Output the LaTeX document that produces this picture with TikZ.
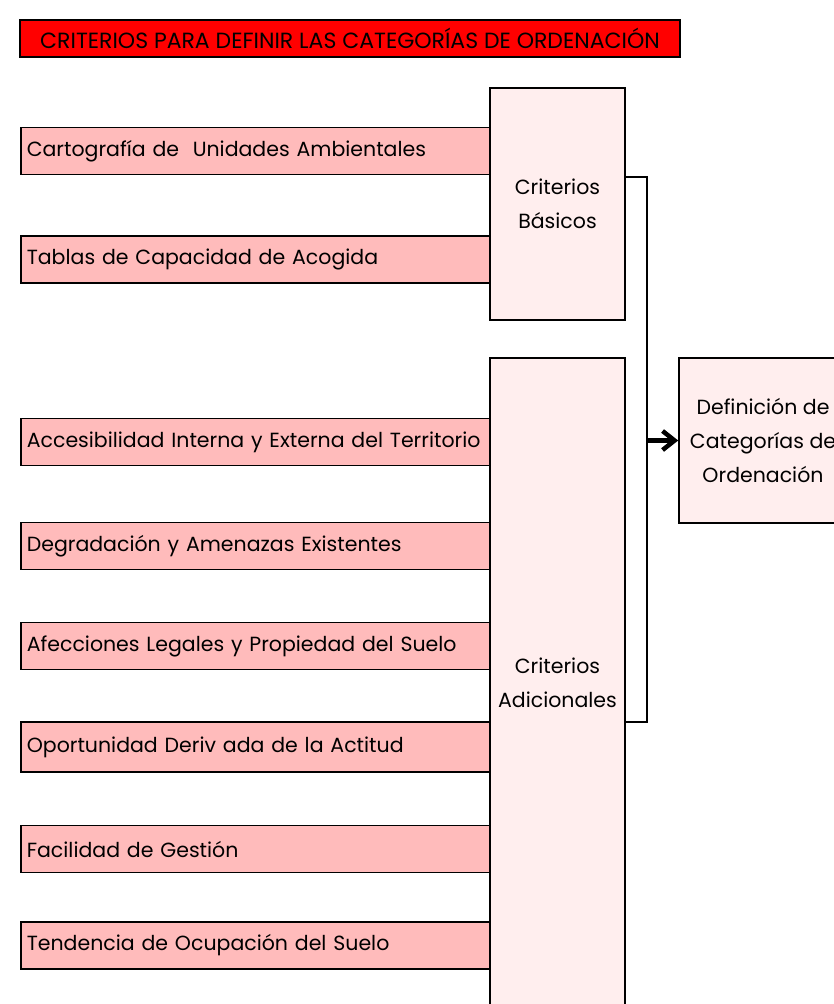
\documentclass[tikz,border=0pt]{standalone}
\usepackage{fontspec}
\setmainfont{Poppins}
\usepackage{tikz}
\usetikzlibrary{positioning,arrows.meta,calc}
\definecolor{rojotitulo}{RGB}{255,0,0}
\definecolor{rosafila}{RGB}{255,187,187}
\definecolor{rosacaja}{RGB}{255,238,238}
\tikzset{
  titulo/.style={draw=black, fill=rojotitulo, line width=1.6pt, inner sep=0pt,
    minimum width=660pt, minimum height=37pt, font=\fontsize{22}{26}\selectfont},
  fila/.style={draw=black, fill=rosafila, line width=1.6pt, anchor=west, inner xsep=6pt,
    minimum height=47pt, text width=460pt, align=left, font=\fontsize{20.5}{24}\selectfont},
  caja/.style={draw=black, fill=rosacaja, line width=1.6pt, align=center,
    font=\fontsize{20.5}{34}\selectfont, minimum width=#1},
  caja/.default=135pt,
  linea/.style={draw=black, line width=1.3pt},
  flecha/.style={-{Straight Barb[length=12pt, width=19pt]}, line width=4.5pt, draw=black},
}
\begin{document}
\begin{tikzpicture}[x=1pt, y=-1pt]
  \useasboundingbox (0,0) rectangle (833,1004);
  \node[titulo] (tit) at (350,38.5) {CRITERIOS PARA DEFINIR LAS CATEGORÍAS DE ORDENACIÓN};
  % criterios basicos
  \node[fila] (f1) at (20,151) {Cartografía de~ Unidades Ambientales};
  \node[fila] (f2) at (20,259.5) {Tablas de Capacidad de Acogida};
  % criterios adicionales
  \node[fila] (f3) at (20,442) {Accesibilidad Interna y Externa del Territorio};
  \node[fila] (f4) at (20,546) {Degradación y Amenazas Existentes};
  \node[fila] (f5) at (20,646) {Afecciones Legales y Propiedad del Suelo};
  \node[fila, minimum height=50pt] (f6) at (20,747) {Oportunidad Deriv ada de la Actitud};
  \node[fila] (f7) at (20,849) {Facilidad de Gestión};
  \node[fila] (f8) at (20,945.5) {Tendencia de Ocupación del Suelo};
  \node[caja, minimum height=232pt] (bas) at (557.5,204) {Criterios\\ Básicos};
  \node[caja, minimum height=650pt] (adi) at (557.5,683) {Criterios\\ Adicionales};
  \node[caja=168pt, minimum height=165pt] (defi) at (763,440.5) {Definición de\\ Categorías de\\ Ordenación};
  \coordinate (col) at (647,440.5);
  \draw[linea] ([yshift=27pt]bas.east) -| (col) |- ([yshift=-39pt]adi.east);
  \draw[flecha] (col) -- (defi.west);
\end{tikzpicture}
\end{document}
